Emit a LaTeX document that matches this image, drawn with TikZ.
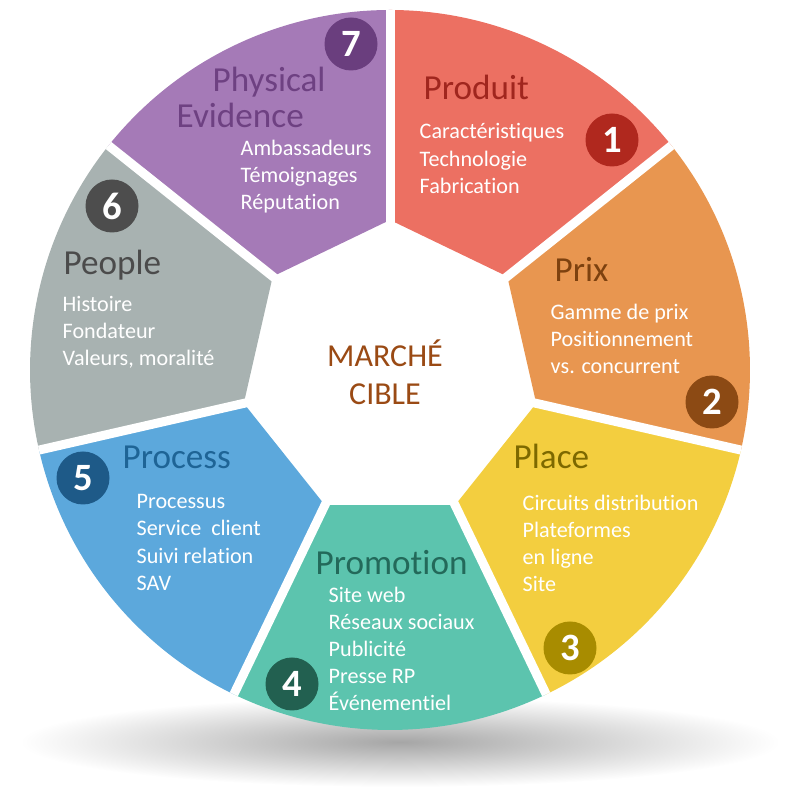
\documentclass[tikz,border=0pt]{standalone}
\usepackage{fontspec}
\setmainfont{Carlito}[Ligatures=NoCommon]
\definecolor{prodfill}{HTML}{EC7062}
\definecolor{prixfill}{HTML}{E89650}
\definecolor{placefill}{HTML}{F3CE3F}
\definecolor{promofill}{HTML}{5CC4AE}
\definecolor{procfill}{HTML}{5CA8DC}
\definecolor{peopfill}{HTML}{A8B2B1}
\definecolor{physfill}{HTML}{A57AB7}
\definecolor{prodtext}{HTML}{A0261E}
\definecolor{prixtext}{HTML}{7D410F}
\definecolor{placetext}{HTML}{7D6900}
\definecolor{promotext}{HTML}{23695A}
\definecolor{proctext}{HTML}{1E6496}
\definecolor{peoptext}{HTML}{4B4B4B}
\definecolor{phystext}{HTML}{6E4182}
\definecolor{prodnum}{HTML}{B0281E}
\definecolor{prixnum}{HTML}{8C4A14}
\definecolor{placenum}{HTML}{A88C00}
\definecolor{promonum}{HTML}{226050}
\definecolor{procnum}{HTML}{1E5A88}
\definecolor{peopnum}{HTML}{4D4D4D}
\definecolor{physnum}{HTML}{6A3E7E}
\definecolor{centertext}{HTML}{9A4A14}
\begin{document}
\begin{tikzpicture}[
  title/.style={anchor=base west, inner sep=0pt, font=\fontsize{10}{10.2}\selectfont},
  items/.style={anchor=west, align=left, inner sep=0pt, text=white, font=\fontsize{6.3}{7.7}\selectfont},
  num/.style={circle, inner sep=0pt, minimum size=0.53cm, text=white, font=\fontsize{11}{11}\selectfont\bfseries}
]
\useasboundingbox (0,0) rectangle (8,8);
\shade[inner color=black!35, outer color=white] (4.0,0.58) ellipse (3.8 and 0.45);

\begin{scope}[shift={(3.9,4.3)}]
\foreach \col [count=\k] in {prodfill,prixfill,placefill,promofill,procfill,peopfill,physfill}{
  \pgfmathsetmacro\a{90-(\k-1)*360/7}
  \pgfmathsetmacro\b{\a-360/7}
  \fill[\col] (\a:1.5) -- (\a:3.6) arc[start angle=\a, end angle=\b, radius=3.6] -- (\b:1.5) -- cycle;
}
\foreach \k in {0,...,6}
  \draw[white, line width=0.09cm] (0,0) -- ({90-\k*360/7}:3.6);
\end{scope}

\node[align=center, inner sep=0pt, text=centertext, font=\fontsize{9.1}{10.8}\selectfont] (cible) at (3.85,4.28) {MARCHÉ\\CIBLE};

\node[title, text=prodtext] (produit) at (4.23,7.00) {Produit};
\node[items] (produititems) at (4.19,6.415) {Caractéristiques\\Technologie\\Fabrication};
\node[num, fill=prodnum] (n1) at (6.12,6.60) {1};

\node[title, text=prixtext] (prix) at (5.54,5.18) {Prix};
\node[items] (prixitems) at (5.50,4.61) {Gamme de prix\\Positionnement\\vs. concurrent};
\node[num, fill=prixnum] (n2) at (7.12,3.98) {2};

\node[title, text=placetext] (place) at (5.13,3.31) {Place};
\node[items] (placeitems) at (5.22,2.565) {Circuits distribution\\Plateformes\\en ligne\\Site};
\node[num, fill=placenum] (n3) at (5.70,1.52) {3};

\node[title, text=promotext] (promotion) at (3.15,2.25) {Promotion};
\node[items] (promotionitems) at (3.28,1.51) {Site web\\Réseaux sociaux\\Publicité\\Presse RP\\Événementiel};
\node[num, fill=promonum] (n4) at (2.92,1.16) {4};

\node[title, text=proctext] (process) at (1.22,3.31) {Process};
\node[items] (processitems) at (1.36,2.575) {Processus\\Service\ \ client\\Suivi relation\\SAV};
\node[num, fill=procnum] (n5) at (0.83,3.22) {5};

\node[title, text=peoptext] (people) at (0.63,5.25) {People};
\node[items] (peopleitems) at (0.62,4.68) {Histoire\\Fondateur\\Valeurs, moralité};
\node[num, fill=peopnum] (n6) at (1.12,5.94) {6};

\node[title, text=phystext] (physical) at (2.12,7.08) {Physical};
\node[title, text=phystext] (evidence) at (1.76,6.72) {Evidence};
\node[items] (physicalitems) at (2.40,6.23) {Ambassadeurs\\Témoignages\\Réputation};
\node[num, fill=physnum] (n7) at (3.51,7.56) {7};
\end{tikzpicture}
\end{document}
